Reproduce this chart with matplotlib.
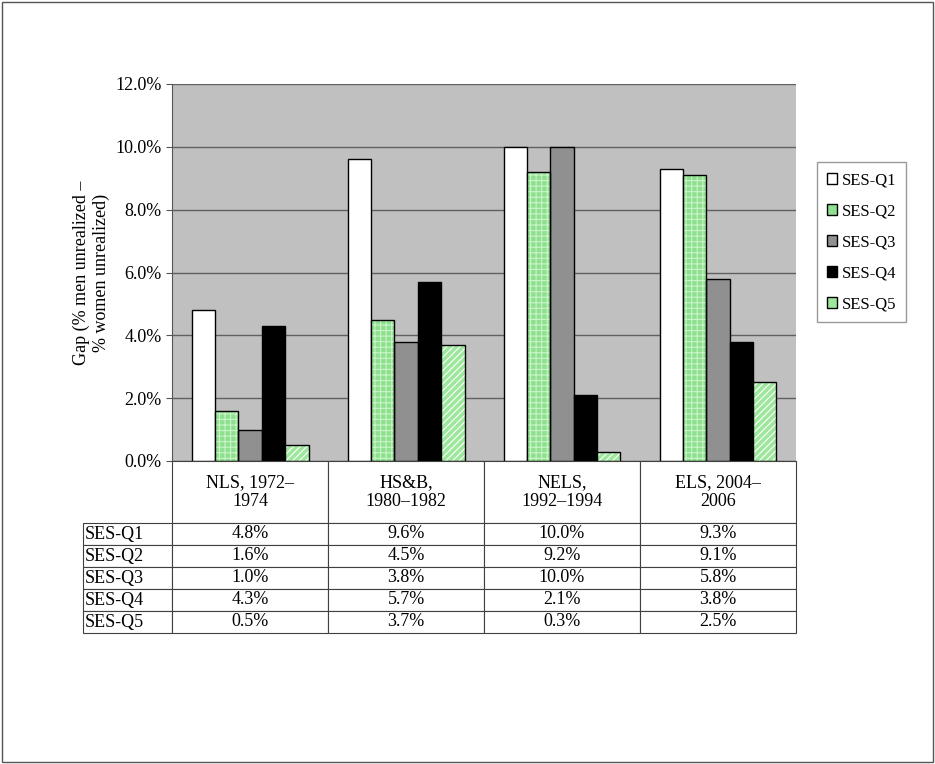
import numpy as np
from matplotlib import pyplot as plt
from matplotlib.patches import Rectangle

plt.rcParams['font.family'] = ['Liberation Serif', 'DejaVu Serif']
plt.rcParams['hatch.linewidth'] = 0.8

categories = ["NLS, 1972–\n1974", "HS&B,\n1980–1982", "NELS,\n1992–1994", "ELS, 2004–\n2006"]
series = ["SES-Q1", "SES-Q2", "SES-Q3", "SES-Q4", "SES-Q5"]
values = [
    [4.8, 9.6, 10.0, 9.3],
    [1.6, 4.5, 9.2, 9.1],
    [1.0, 3.8, 10.0, 5.8],
    [4.3, 5.7, 2.1, 3.8],
    [0.5, 3.7, 0.3, 2.5],
]
yticks = [0, 2, 4, 6, 8, 10, 12]

faces = ["white", "#8ee08e", "#909090", "black", "#9ee89e"]
hatches = [None, "+++", None, None, "/////"]
hcolors = [None, "#c8f4c8", None, None, "white"]

W, H = 935, 764
fig = plt.figure(figsize=(W / 100, H / 100), dpi=100)
fig.patches.append(Rectangle((0.002, 0.002), 0.996, 0.996, fill=False, edgecolor="#555555",
                             linewidth=1.0, transform=fig.transFigure))

def box(x0, y0, x1, y1):
    return [x0 / W, 1 - y1 / H, (x1 - x0) / W, (y1 - y0) / H]

ax = fig.add_axes(box(172, 84, 796, 461))
ax.set_facecolor("#c0c0c0")
x = np.arange(len(categories))
bw = 0.15
for i, s in enumerate(series):
    pos = x + (i - 2) * bw
    if hatches[i]:
        ax.bar(pos, values[i], bw, color=faces[i], edgecolor=hcolors[i], linewidth=0,
               hatch=hatches[i], zorder=3)
        ax.bar(pos, values[i], bw, fill=False, edgecolor="black", linewidth=1.0, zorder=4)
        ax.bar([np.nan], [0], bw, color=faces[i], edgecolor="black", linewidth=1.0, label=s)
    else:
        ax.bar(pos, values[i], bw, color=faces[i], edgecolor="black", linewidth=1.0,
               label=s, zorder=3)
ax.set_xlim(-0.5, len(categories) - 0.5)
ax.set_ylim(0, 12)
ax.set_yticks(yticks)
ax.set_yticklabels([f"{v:.1f}%" for v in yticks], fontsize=13)
ax.set_xticks([])
ax.grid(axis="y", color="#606060", linewidth=1.0, zorder=0)
for sp in ["top", "right"]:
    ax.spines[sp].set_visible(False)
ax.spines["left"].set_color("#555555")
ax.spines["bottom"].set_color("#555555")
ax.tick_params(axis="y", length=4, color="#555555")
ax.set_ylabel("Gap (% men unrealized –\n% women unrealized)", fontsize=13)

leg = ax.legend(loc="center left", bbox_to_anchor=(1.02, 0.58), fontsize=12, frameon=True,
                fancybox=False, edgecolor="#808080", handlelength=0.6, handleheight=0.6,
                handletextpad=0.3, labelspacing=0.9, borderpad=0.6)

# data table
tx = fig.add_axes(box(83, 461, 796, 633))
tx.axis("off")
cell_text = [[""] + [c for c in categories]]
for i, s in enumerate(series):
    cell_text.append([s] + [f"{v:.1f}%" for v in values[i]])
col_w = [(172 - 83) / 713] + [(796 - 172) / 4 / 713] * 4
tbl = tx.table(cellText=cell_text, colWidths=col_w, cellLoc="center", bbox=[0, 0, 1, 1])
tbl.auto_set_font_size(False)
tbl.set_fontsize(13)
hdr_h = 62 / 172
row_h = (1 - hdr_h) / 5
for (r, c), cell in tbl.get_celld().items():
    cell.set_height(hdr_h if r == 0 else row_h)
    cell.set_edgecolor("#404040")
    cell.set_linewidth(0.8)
    if c == 0:
        cell._loc = "left"
        cell.PAD = 0.02
        cell.get_text().set_ha("left")
    if r == 0 and c == 0:
        cell.visible_edges = ""

fig.savefig("out.png", dpi=100)
